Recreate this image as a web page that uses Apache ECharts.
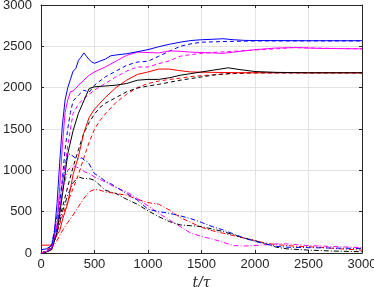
<!DOCTYPE html>
<html><head><meta charset="utf-8">
<script src="https://cdn.jsdelivr.net/npm/echarts@6/dist/echarts.min.js"></script>
<style>html,body{margin:0;padding:0;background:#fff;overflow:hidden}#c{width:374px;height:287px}</style>
</head><body><div id="c"></div>
<script>
var xTicks = [0, 500, 1000, 1500, 2000, 2500, 3000];
var yTicks = [0, 500, 1000, 1500, 2000, 2500, 3000];
var xName = 't/\u03c4';

var blueSolid = [[0,40],[50,50],[100,90],[125,250],[150,600],[175,1100],[200,1550],[225,1850],[250,2000],[275,2100],[300,2200],[325,2230],[350,2330],[375,2370],[400,2420],[425,2380],[450,2340],[475,2310],[500,2295],[550,2320],[600,2345],[650,2385],[700,2395],[800,2410],[900,2435],[1000,2460],[1100,2495],[1200,2525],[1300,2550],[1400,2570],[1500,2580],[1600,2585],[1700,2592],[1800,2580],[1900,2572],[2000,2570],[2500,2568],[3000,2568]];
var magentaSolid = [[0,0],[50,20],[100,60],[150,350],[175,800],[200,1300],[225,1700],[250,1850],[275,1950],[300,1960],[325,1990],[350,2030],[400,2090],[450,2150],[500,2190],[600,2250],[700,2320],[800,2390],[900,2430],[1000,2425],[1100,2420],[1200,2445],[1300,2440],[1400,2430],[1500,2425],[1600,2420],[1700,2415],[1800,2430],[1900,2445],[2000,2460],[2200,2480],[2400,2485],[2600,2475],[3000,2470]];
var blackSolid = [[0,0],[50,10],[100,40],[150,250],[200,700],[250,1200],[300,1480],[350,1690],[400,1840],[450,1990],[500,2010],[600,2020],[700,2030],[800,2050],[900,2090],[1000,2100],[1100,2100],[1200,2120],[1300,2150],[1400,2170],[1500,2190],[1600,2210],[1750,2240],[1850,2220],[2000,2195],[2200,2185],[2500,2180],[3000,2180]];
var redSolid = [[0,95],[80,95],[100,100],[125,150],[150,220],[175,270],[200,400],[250,600],[300,950],[350,1170],[400,1450],[450,1640],[500,1740],[600,1880],[700,2000],[800,2090],[900,2160],[1000,2190],[1100,2225],[1200,2225],[1300,2205],[1400,2190],[1600,2185],[2000,2180],[3000,2180]];

var blueDashed = [[0,0],[50,20],[100,60],[150,300],[200,900],[225,1250],[250,1500],[275,1700],[300,1840],[350,1910],[400,1970],[450,1945],[500,2030],[600,2130],[700,2200],[800,2270],[900,2310],[1000,2320],[1100,2380],[1200,2440],[1300,2500],[1400,2530],[1500,2550],[1700,2558],[2000,2565],[2500,2565],[3000,2565]];
var magentaDashed = [[0,0],[50,10],[100,50],[150,250],[200,800],[250,1300],[300,1690],[350,1800],[400,1870],[450,1920],[500,1970],[600,2050],[700,2130],[800,2200],[900,2250],[1000,2250],[1100,2290],[1200,2325],[1300,2380],[1400,2400],[1500,2415],[1650,2430],[1800,2440],[2000,2455],[2200,2470],[2350,2485],[2500,2480],[3000,2470]];
var blackDashed = [[0,0],[50,10],[100,80],[150,330],[200,550],[250,800],[300,1040],[350,1250],[400,1450],[450,1580],[500,1680],[550,1760],[600,1810],[700,1880],[800,1950],[900,1995],[1000,2020],[1100,2040],[1200,2065],[1300,2090],[1400,2110],[1500,2130],[1650,2160],[1800,2175],[2000,2180],[3000,2180]];
var redDashed = [[0,0],[50,30],[100,100],[150,250],[200,450],[250,620],[300,780],[350,950],[400,1150],[450,1340],[500,1500],[550,1600],[600,1680],[700,1820],[800,1920],[900,2000],[1000,2050],[1100,2080],[1200,2100],[1300,2115],[1400,2135],[1600,2155],[1800,2170],[2000,2180],[3000,2180]];

var blueDashDot = [[0,0],[50,20],[100,100],[150,450],[200,850],[230,1100],[260,1200],[290,1180],[320,1150],[350,1140],[380,1150],[410,1120],[440,1100],[470,1030],[500,960],[550,920],[600,870],[650,840],[700,800],[800,720],[900,640],[1000,530],[1100,500],[1200,480],[1300,450],[1400,415],[1500,370],[1600,320],[1700,280],[1800,230],[1900,180],[2000,140],[2100,110],[2200,80],[2300,70],[2500,65],[2700,60],[3000,55]];
var magentaDashDot = [[0,0],[50,10],[100,60],[150,350],[200,750],[250,1000],[290,1060],[330,1040],[370,1020],[410,980],[450,960],[500,920],[550,890],[600,860],[700,790],[800,740],[900,660],[1000,570],[1100,480],[1200,400],[1300,320],[1400,240],[1500,200],[1600,170],[1700,130],[1800,90],[1900,85],[2000,90],[2100,100],[2200,110],[2300,110],[2400,100],[2500,90],[2700,80],[3000,65]];
var blackDashDot = [[0,0],[50,10],[100,50],[150,250],[200,500],[250,700],[300,850],[350,920],[400,900],[450,900],[500,880],[550,820],[600,760],[700,720],[800,650],[900,590],[1000,510],[1100,440],[1200,380],[1300,340],[1400,330],[1500,320],[1600,290],[1700,260],[1800,220],[1900,180],[2000,150],[2100,110],[2200,70],[2300,50],[2500,35],[2700,25],[3000,15]];
var redDashDot = [[0,0],[50,20],[100,60],[150,150],[200,270],[250,370],[300,460],[350,560],[400,660],[450,740],[500,770],[550,760],[600,740],[700,720],[800,700],[900,650],[1000,610],[1100,590],[1200,520],[1300,430],[1400,370],[1500,310],[1600,270],[1700,240],[1800,210],[1900,180],[2000,150],[2100,120],[2200,100],[2400,80],[2600,70],[2800,50],[3000,35]];

var BLUE = '#0000ff', MAG = '#ff00ff', BLK = '#000000', RED = '#ff0000';
var DASH = [4, 3], DASHDOT = [5, 2, 1, 2];

function mk(data, color, type) {
  return { type: 'line', data: data, showSymbol: false, symbol: 'none', animation: false,
    lineStyle: { color: color, width: 1, type: type } };
}

var axisCol = '#262626';
var labelFont = { color: axisCol, fontSize: 13, fontFamily: 'Liberation Sans, Arial, sans-serif',
  formatter: function (v) { return String(v); } };

function xAx(pos, showLabel) {
  return { type: 'value', position: pos, min: 0, max: 3000, interval: 500,
    name: showLabel ? xName : '', nameLocation: 'middle', nameGap: 11,
    nameTextStyle: { fontFamily: 'DejaVu Serif, serif', fontStyle: 'italic', fontSize: 14, color: axisCol },
    axisLine: { show: true, onZero: false, lineStyle: { color: axisCol, width: 1 } },
    axisTick: { show: true, inside: true, length: 3, lineStyle: { color: axisCol } },
    axisLabel: Object.assign({ show: showLabel, margin: 5 }, labelFont),
    splitLine: { show: showLabel, lineStyle: { color: '#e3e3e3', width: 1 } } };
}
function yAx(pos, showLabel) {
  return { type: 'value', position: pos, min: 0, max: 3000, interval: 500,
    axisLine: { show: true, onZero: false, lineStyle: { color: axisCol, width: 1 } },
    axisTick: { show: true, inside: true, length: 3, lineStyle: { color: axisCol } },
    axisLabel: Object.assign({ show: showLabel, margin: 9 }, labelFont),
    splitLine: { show: showLabel, lineStyle: { color: '#e3e3e3', width: 1 } } };
}

var chart = echarts.init(document.getElementById('c'), null, { renderer: 'canvas' });
chart.setOption({
  animation: false,
  backgroundColor: '#ffffff',
  grid: { left: 41, right: 12, top: 5, bottom: 34, containLabel: false, outerBoundsMode: 'none' },
  xAxis: [xAx('bottom', true), xAx('top', false)],
  yAxis: [yAx('left', true), yAx('right', false)],
  series: [
    mk(redDashDot, RED, DASHDOT), mk(magentaDashDot, MAG, DASHDOT), mk(blackDashDot, BLK, DASHDOT), mk(blueDashDot, BLUE, DASHDOT),
    mk(redDashed, RED, DASH), mk(blackDashed, BLK, DASH), mk(magentaDashed, MAG, DASH), mk(blueDashed, BLUE, DASH),
    mk(redSolid, RED, 'solid'), mk(blackSolid, BLK, 'solid'), mk(magentaSolid, MAG, 'solid'), mk(blueSolid, BLUE, 'solid')
  ]
});
</script></body></html>
